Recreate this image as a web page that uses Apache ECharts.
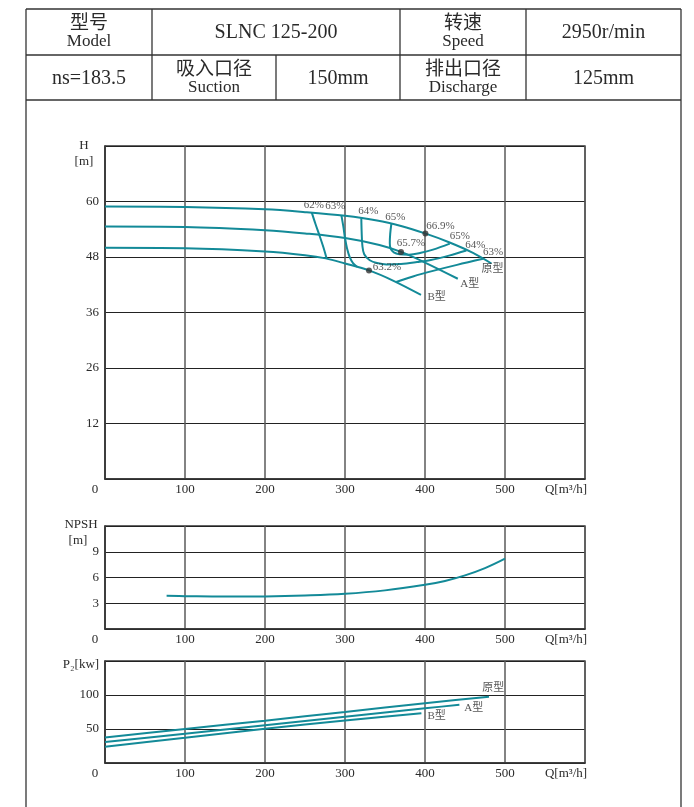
<!DOCTYPE html>
<html><head><meta charset="utf-8">
<script src="https://cdn.jsdelivr.net/npm/echarts@6/dist/echarts.min.js"></script>
<style>html,body{margin:0;padding:0;background:#fff}#c{width:694px;height:807px}</style>
</head><body><div id="c"></div>
<script>
// ---------------- data ----------------
const tableRow1 = [['型号', 'Model'], ['SLNC 125-200'], ['转速', 'Speed'], ['2950r/min']];
const tableRow2 = [['ns=183.5'], ['吸入口径', 'Suction'], ['150mm'], ['排出口径', 'Discharge'], ['125mm']];

const qTickLabels = ['0', '100', '200', '300', '400', '500', 'Q[m³/h]'];
const hTickLabels = ['', '12', '26', '36', '48', '60', ''];
const npshTickLabels = ['', '3', '6', '9', ''];
const p2TickLabels = ['', '50', '100', ''];

const curveNames = ['原型', 'A型', 'B型'];

// H-Q curves
const hMainQ = [0, 100, 200, 250, 300, 340, 370, 400, 430, 460, 483];
const hMainH = [58.9, 58.8, 58.3, 57.7, 56.9, 55.9, 54.7, 53.1, 51.2, 48.9, 46.6];
const hAQ = [0, 100, 200, 250, 300, 343, 370, 400, 441];
const hAH = [54.6, 54.5, 53.8, 53.1, 52.1, 50.6, 49.1, 46.8, 43.3];
const hBQ = [0, 100, 200, 250, 276, 300, 330, 360, 395];
const hBH = [50.0, 49.9, 49.2, 48.4, 47.7, 46.6, 45.1, 42.9, 39.8];

// iso-efficiency curves
const eff62Q = [258.5, 263, 268, 273, 277];
const eff62H = [57.6, 55.2, 52.7, 50.1, 47.7];
const eff63LQ = [295.5, 298, 300, 302.5, 306, 310, 315];
const eff63LH = [57.0, 54.5, 52.1, 49.9, 47.9, 46.7, 45.9];
const eff64Q = [320.4, 320.8, 321.7, 324, 331, 340, 352, 370, 390, 406, 430, 451.7];
const eff64H = [56.4, 53.5, 50.5, 48.6, 47.3, 46.7, 46.4, 46.5, 46.9, 47.3, 48.3, 49.4];
const eff65Q = [358, 356.5, 356, 357, 361, 368, 380, 395, 410, 431];
const eff65H = [55.2, 53.0, 51.0, 49.8, 49.0, 48.6, 48.5, 48.9, 49.6, 50.9];
const eff63RQ = [364, 385, 410, 440, 472.6];
const eff63RH = [42.6, 43.8, 45.0, 46.3, 47.6];
const effLabels = ['62%', '63%', '64%', '65%'];

// best efficiency points
const bepQ = [400.5, 370, 330];
const bepH = [53.1, 49.1, 45.1];
const bepLabels = ['66.9%', '65.7%', '63.2%'];

// NPSH
const npshQ = [77, 100, 150, 200, 250, 300, 350, 400, 425, 450, 475, 500];
const npshV = [3.87, 3.83, 3.78, 3.8, 3.9, 4.1, 4.5, 5.15, 5.6, 6.25, 7.1, 8.2];

// P2
const pMainQ = [0, 100, 200, 300, 400, 480];
const pMainV = [37.5, 50, 62.3, 75, 88, 97.5];
const pAQ = [0, 100, 200, 300, 400, 443];
const pAV = [31, 43, 55.5, 68, 80.5, 85.5];
const pBQ = [0, 100, 200, 300, 395.5];
const pBV = [24, 37, 50.5, 62.5, 73.3];

// ---------------- rendering ----------------
const zip = (a, b) => a.map((v, i) => [v, b[i]]);
const last = a => a[a.length - 1];
const TEAL = '#138a98';
const SERIF = "'Liberation Serif','Noto Sans CJK SC',serif";
const CJK = "'Noto Sans CJK SC',sans-serif";
const TXT = '#2a2a2a';

function curve(q, v, gi, smooth) {
  return {
    type: 'line', xAxisIndex: gi, yAxisIndex: gi, data: zip(q, v),
    showSymbol: false, smooth: smooth === undefined ? 0.35 : smooth,
    lineStyle: { color: TEAL, width: 2 }, silent: true, animation: false, z: 3
  };
}
function labelSeries(gi, items, fontSize) {
  return {
    type: 'scatter', xAxisIndex: gi, yAxisIndex: gi, symbolSize: 1,
    itemStyle: { color: 'rgba(0,0,0,0)' }, silent: true, animation: false, z: 5,
    data: items.map(it => ({
      value: it.p,
      label: { show: true, position: 'inside', offset: it.o, formatter: it.t,
        fontFamily: SERIF, fontSize: fontSize, color: TXT }
    }))
  };
}
function xAxis(gi) {
  return {
    type: 'value', gridIndex: gi, min: 0, max: 600, interval: 100,
    axisTick: { show: false },
    axisLine: { show: true, lineStyle: { color: '#333', width: 1.5 } },
    splitLine: { show: true, lineStyle: { color: '#5a5a5a', width: 1.5 } },
    axisLabel: {
      margin: 4, fontFamily: SERIF, fontSize: 13, color: TXT, showMinLabel: true, showMaxLabel: true,
      formatter: (v, i) => {
        const t = qTickLabels[Math.round(v / 100)];
        if (v === 0) return '{o|' + t + '}';
        if (v === 600) return '{q|' + t + '}';
        return t;
      },
      rich: {
        o: { padding: [0, 20, 0, 0], fontFamily: SERIF, fontSize: 13, color: TXT },
        q: { padding: [0, 38, 0, 0], fontFamily: SERIF, fontSize: 13, color: TXT }
      }
    }
  };
}
function yAxis(gi, max, interval, labels) {
  return {
    type: 'value', gridIndex: gi, min: 0, max: max, interval: interval,
    axisTick: { show: false },
    axisLine: { show: true, lineStyle: { color: '#333', width: 1.5 } },
    splitLine: { show: true, lineStyle: { color: '#222', width: 1 } },
    axisLabel: {
      margin: 6, fontFamily: SERIF, fontSize: 13, color: TXT, showMinLabel: true, showMaxLabel: true,
      formatter: v => labels[Math.round(v / interval)]
    }
  };
}

// table graphics
const TL = 26, TR = 681, TT = 9, TM = 55, TB = 100, FB = 807;
const row1X = [TL, 152, 400, 526, TR];
const row2X = [TL, 152, 276, 400, 526, TR];
const gfx = [];
function gline(x1, y1, x2, y2, w) {
  gfx.push({ type: 'line', silent: true, shape: { x1, y1, x2, y2 }, style: { stroke: '#333', lineWidth: w || 1.3 } });
}
function gtext(x, y, t, font) {
  gfx.push({ type: 'text', silent: true, x, y, style: { text: t, font, fill: TXT,
    align: 'center', verticalAlign: 'middle', textAlign: 'center', textVerticalAlign: 'middle' } });
}
gline(TL, TT, TR, TT); gline(TL, TM, TR, TM); gline(TL, TB, TR, TB);
gline(TL, TT, TL, FB); gline(TR, TT, TR, FB);
row1X.slice(1, -1).forEach(x => gline(x, TT, x, TM));
row2X.slice(1, -1).forEach(x => gline(x, TM, x, TB));
function fillRow(xs, cells, top, bot) {
  cells.forEach((c, i) => {
    const cx = (xs[i] + xs[i + 1]) / 2, cy = (top + bot) / 2;
    if (c.length === 1) gtext(cx, cy + 1, c[0], '20px ' + SERIF);
    else { gtext(cx, cy - 10, c[0], '19px ' + CJK); gtext(cx, cy + 10, c[1], '17px ' + SERIF); }
  });
}
fillRow(row1X, tableRow1, TT, TM);
fillRow(row2X, tableRow2, TM, TB);
// axis titles
gtext(84, 146, 'H', '13px ' + SERIF);
gtext(84, 162, '[m]', '13px ' + SERIF);
gtext(81, 525, 'NPSH', '13px ' + SERIF);
gtext(78, 541, '[m]', '13px ' + SERIF);
gtext(81, 665, 'P₂[kw]', '13px ' + SERIF);

const series = [
  curve(hMainQ, hMainH, 0), curve(hAQ, hAH, 0), curve(hBQ, hBH, 0),
  curve(eff62Q, eff62H, 0), curve(eff63LQ, eff63LH, 0), curve(eff64Q, eff64H, 0),
  curve(eff65Q, eff65H, 0), curve(eff63RQ, eff63RH, 0),
  curve(npshQ, npshV, 1, 0.4),
  curve(pMainQ, pMainV, 2, 0.2), curve(pAQ, pAV, 2, 0.2), curve(pBQ, pBV, 2, 0.2),
  {
    type: 'scatter', xAxisIndex: 0, yAxisIndex: 0, symbolSize: 6, data: zip(bepQ, bepH),
    itemStyle: { color: '#333' }, silent: true, animation: false, z: 4
  },
  labelSeries(0, [
    { p: [eff62Q[0], eff62H[0]], t: effLabels[0], o: [2, -7] },
    { p: [eff63LQ[0], eff63LH[0]], t: effLabels[1], o: [-6, -9] },
    { p: [eff64Q[0], eff64H[0]], t: effLabels[2], o: [7, -7.5] },
    { p: [eff65Q[0], eff65H[0]], t: effLabels[3], o: [4, -6.4] },
    { p: [last(eff65Q), last(eff65H)], t: effLabels[3], o: [10, -7] },
    { p: [last(eff64Q), last(eff64H)], t: effLabels[2], o: [9, -5.5] },
    { p: [last(eff63RQ), last(eff63RH)], t: effLabels[1], o: [10, -7] },
    { p: [bepQ[0], bepH[0]], t: bepLabels[0], o: [15, -7] },
    { p: [bepQ[1], bepH[1]], t: bepLabels[1], o: [10, -9] },
    { p: [bepQ[2], bepH[2]], t: bepLabels[2], o: [18, -3] },
    { p: [last(hMainQ), last(hMainH)], t: curveNames[0], o: [1, 6] },
    { p: [last(hAQ), last(hAH)], t: curveNames[1], o: [12, 5.3] },
    { p: [last(hBQ), last(hBH)], t: curveNames[2], o: [15.7, 1.8] }
  ], 11),
  labelSeries(2, [
    { p: [last(pMainQ), last(pMainV)], t: curveNames[0], o: [4.3, -9] },
    { p: [last(pAQ), last(pAV)], t: curveNames[1], o: [14.4, 3.6] },
    { p: [last(pBQ), last(pBV)], t: curveNames[2], o: [15.3, 2.8] }
  ], 11)
];

const chart = echarts.init(document.getElementById('c'), null, { renderer: 'canvas' });
chart.setOption({
  backgroundColor: '#fff',
  animation: false,
  grid: [
    { left: 105, top: 146, width: 480, height: 333, show: true, borderColor: '#333', borderWidth: 1.3 },
    { left: 105, top: 526, width: 480, height: 103, show: true, borderColor: '#333', borderWidth: 1.3 },
    { left: 105, top: 661, width: 480, height: 102, show: true, borderColor: '#333', borderWidth: 1.3 }
  ],
  xAxis: [xAxis(0), xAxis(1), xAxis(2)],
  yAxis: [yAxis(0, 72, 12, hTickLabels), yAxis(1, 12, 3, npshTickLabels), yAxis(2, 150, 50, p2TickLabels)],
  graphic: gfx,
  series: series
});
</script>
</body></html>
